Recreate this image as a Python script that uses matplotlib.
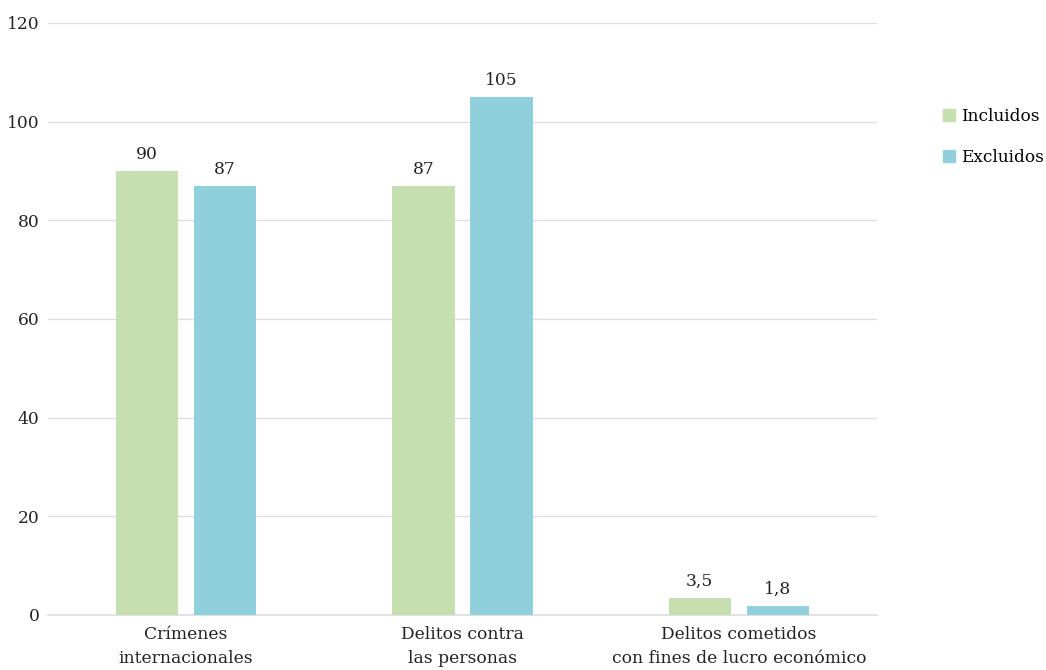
import numpy as np
import matplotlib.pyplot as plt
from matplotlib.patches import Patch

categories = ["Crímenes\ninternacionales", "Delitos contra\nlas personas",
              "Delitos cometidos\ncon fines de lucro económico"]
incluidos = [90, 87, 3.5]
excluidos = [87, 105, 1.8]
labels_inc = ["90", "87", "3,5"]
labels_exc = ["87", "105", "1,8"]

GREEN = "#c5dfb0"
BLUE = "#8fd0dc"

plt.rcParams["font.family"] = ["DejaVu Serif"]
plt.rcParams["font.size"] = 12.3

fig = plt.figure(figsize=(10.46, 6.70), dpi=100)
ax = fig.add_axes([0.0459, 0.0821, 0.7925, 0.8836])

x = np.arange(len(categories))
w = 0.225
off = 0.141
b1 = ax.bar(x - off, incluidos, w, color=GREEN, zorder=3)
b2 = ax.bar(x + off, excluidos, w, color=BLUE, zorder=3)

for bars, labs in [(b1, labels_inc), (b2, labels_exc)]:
    for r, t in zip(bars, labs):
        ax.text(r.get_x() + r.get_width() / 2, r.get_height() + 1.6, t,
                ha="center", va="bottom", color="#222222")

ax.set_xlim(-0.5, 2.5)
ax.set_ylim(0, 120)
ax.set_yticks(range(0, 121, 20))
ax.set_xticks(x)
ax.set_xticklabels(categories, color="#222222", linespacing=1.5)
ax.tick_params(axis="both", length=0, colors="#222222")
ax.tick_params(axis="y", pad=6)
ax.tick_params(axis="x", pad=8)
ax.grid(axis="y", color="#dddddd", linewidth=1, zorder=0)
for s in ["top", "right", "left"]:
    ax.spines[s].set_visible(False)
ax.spines["bottom"].set_color("#dddddd")
ax.spines["bottom"].set_linewidth(1.2)

handles = [Patch(color=GREEN, label="Incluidos"), Patch(color=BLUE, label="Excluidos")]
fig.legend(handles=handles, loc="upper left", bbox_to_anchor=(0.897, 0.847),
           frameon=False, handlelength=0.7, handleheight=0.7, handletextpad=0.35,
           labelspacing=1.45, fontsize=12.2, borderaxespad=0, borderpad=0.3)

fig.savefig("out.png", dpi=100)
